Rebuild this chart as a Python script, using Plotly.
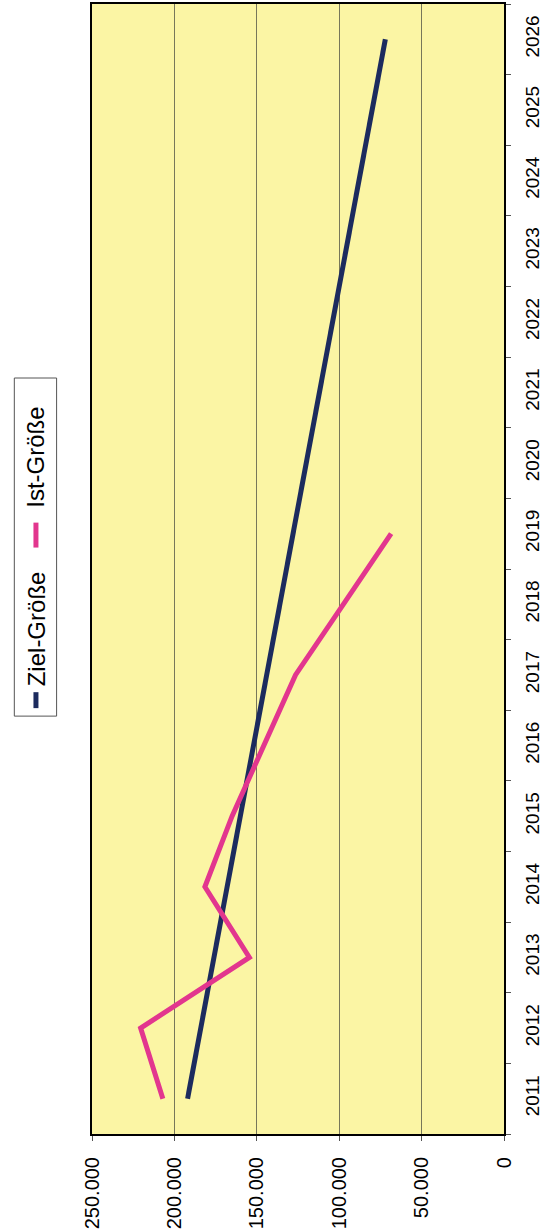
import plotly.graph_objects as go

years = list(range(2011, 2027))
year_labels = [str(y) for y in years]
ziel = [192000, 184000, 176000, 168000, 160000, 152000, 144000, 136000,
        128000, 120000, 112000, 104000, 96000, 88000, 80000, 72000]
ist_years = [2011, 2012, 2013, 2014, 2015, 2016, 2017, 2018, 2019]
ist = [207000, 220500, 154500, 181500, 165000, 146000, 126500, 97500, 68500]
value_ticks = [0, 50000, 100000, 150000, 200000, 250000]
series_names = ["Ziel-Größe", "Ist-Größe"]
colors = ["#1c2b5e", "#e2368e"]

W, H = 545, 1231
L, R, T, B = 92, 34, 2, 96
pw, ph = W - L - R, H - T - B

def px(x):
    return (x - L) / pw

def py(y):
    return (H - B - y) / ph

font = "Liberation Sans, Arial, sans-serif"

fig = go.Figure()
fig.add_trace(go.Scatter(x=ziel, y=years, mode="lines", name=series_names[0],
                         line=dict(color=colors[0], width=5), showlegend=False))
fig.add_trace(go.Scatter(x=ist, y=ist_years, mode="lines", name=series_names[1],
                         line=dict(color=colors[1], width=5), showlegend=False))

shapes = [
    dict(type="rect", xref="paper", yref="paper", x0=px(13), x1=px(56), y0=py(377), y1=py(716),
         line=dict(color="#555555", width=1), fillcolor="white", layer="above"),
    dict(type="line", xref="paper", yref="paper", x0=px(35), x1=px(35), y0=py(692), y1=py(708),
         line=dict(color=colors[0], width=5)),
    dict(type="line", xref="paper", yref="paper", x0=px(35), x1=px(35), y0=py(522), y1=py(547),
         line=dict(color=colors[1], width=5)),
]
annotations = [
    dict(xref="paper", yref="paper", x=px(35), y=py(628), text=series_names[0], textangle=-90,
         showarrow=False, font=dict(family=font, size=24, color="black"), xanchor="center", yanchor="middle"),
    dict(xref="paper", yref="paper", x=px(35), y=py(456), text=series_names[1], textangle=-90,
         showarrow=False, font=dict(family=font, size=24, color="black"), xanchor="center", yanchor="middle"),
]

fig.update_layout(
    width=W, height=H,
    margin=dict(l=L, r=R, t=T, b=B),
    paper_bgcolor="white",
    plot_bgcolor="#fbf5a4",
    separators=",.",
    font=dict(family=font, size=19, color="black"),
    shapes=shapes,
    annotations=annotations,
    xaxis=dict(
        range=[250000, 0], tickvals=value_ticks, tickformat=",d", tickangle=-90,
        showgrid=True, gridcolor="#77775a", gridwidth=1, zeroline=False,
        showline=True, linecolor="black", linewidth=2, mirror=True,
        ticks="outside", ticklen=5, tickcolor="#555555",
        tickfont=dict(size=20), ticklabelstandoff=8,
    ),
    yaxis=dict(
        range=[2010.5, 2026.5], tickmode="array", tickvals=years, ticktext=year_labels,
        side="right", tickangle=-90, showgrid=False, zeroline=False,
        showline=True, linecolor="black", linewidth=2, mirror=True,
        ticks="", tickfont=dict(size=19), ticklabelstandoff=10,
        minor=dict(tick0=2010.5, dtick=1, ticks="outside", ticklen=5, tickcolor="#555555", showgrid=False),
    ),
)

fig.write_html("out.html")
